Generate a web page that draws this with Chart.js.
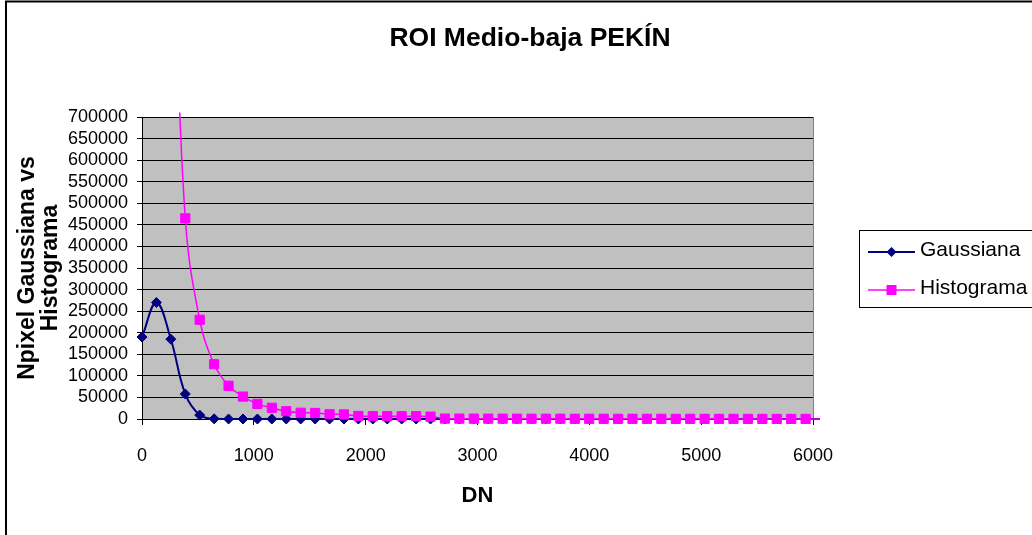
<!DOCTYPE html>
<html>
<head>
<meta charset="utf-8">
<title>ROI Medio-baja PEKÍN</title>
<script src="https://cdn.jsdelivr.net/npm/chart.js@4/dist/chart.umd.min.js"></script>
<style>
  html, body { margin: 0; padding: 0; background: #fff; }
  canvas { display: block; }
</style>
</head>
<body>
<canvas id="myChart01" width="1032" height="535"></canvas>
<script>
// DN bins (last one lies just past the axis end, like in the original)
var dnValues = [0, 129, 258, 387, 516, 645, 774, 903, 1032, 1161, 1290, 1419,
    1548, 1677, 1806, 1935, 2064, 2193, 2322, 2451, 2580, 2709, 2838, 2967,
    3096, 3225, 3354, 3483, 3612, 3741, 3870, 3999, 4128, 4257, 4386, 4515,
    4644, 4773, 4902, 5031, 5160, 5289, 5418, 5547, 5676, 5805, 5934, 6063];

var gaussiana = [190000, 270000, 185000, 58000, 9000, 300, 0, 0, 0, 0, 0, 0,
    0, 0, 0, 0, 0, 0, 0, 0, 0, 0, 0, 0,
    0, 0, 0, 0, 0, 0, 0, 0, 0, 0, 0, 0,
    0, 0, 0, 0, 0, 0, 0, 0, 0, 0, 0, 0];

var histograma = [1100000, 1500000, 1200000, 465000, 230000, 127000, 77000, 52000, 35000, 26000, 18000, 14500,
    14000, 11000, 10500, 7000, 6500, 6500, 6500, 6500, 5500, 1000, 900, 800,
    800, 700, 700, 600, 600, 600, 500, 500, 500, 400, 400, 400,
    400, 300, 300, 300, 300, 300, 200, 200, 200, 200, 200, 200];

var xTicks = [0, 1000, 2000, 3000, 4000, 5000, 6000];
var yTicks = [0, 50000, 100000, 150000, 200000, 250000, 300000, 350000, 400000,
    450000, 500000, 550000, 600000, 650000, 700000];

var FONT = "'Liberation Sans', Arial, Helvetica, sans-serif";

function toPoints(xs, ys) {
    return xs.map(function (x, i) { return { x: x, y: ys[i] }; });
}

function hideBeyondAxis(r) {
    return function (ctx) {
        return ctx.raw && ctx.raw.x > 6000 ? 0 : r;
    };
}

// grey plot area, chart frame, plot border and legend
var excelLook = {
    id: 'excelLook',
    beforeDraw: function (chart) {
        var ctx = chart.ctx, a = chart.chartArea;
        ctx.save();
        ctx.fillStyle = '#ffffff';
        ctx.fillRect(0, 0, chart.width, chart.height);
        ctx.fillStyle = '#c0c0c0';
        ctx.fillRect(a.left, a.top, a.right - a.left, a.bottom - a.top);
        ctx.restore();
    },
    beforeDatasetsDraw: function (chart) {
        var ctx = chart.ctx, a = chart.chartArea;
        ctx.save();
        ctx.strokeStyle = '#808080';
        ctx.lineWidth = 1;
        ctx.beginPath();
        ctx.moveTo(Math.round(a.right) + 0.5, a.top);
        ctx.lineTo(Math.round(a.right) + 0.5, a.bottom);
        ctx.stroke();
        ctx.restore();
    },
    afterDraw: function (chart) {
        var ctx = chart.ctx;
        ctx.save();
        // outer chart frame
        ctx.strokeStyle = '#000';
        ctx.lineWidth = 2;
        ctx.strokeRect(6, 1.5, 1100, 700);

        // legend box
        ctx.lineWidth = 1;
        ctx.strokeStyle = '#000';
        ctx.strokeRect(859.5, 230.5, 200, 77);

        var rows = [252, 290];
        chart.data.datasets.forEach(function (ds, i) {
            var y = rows[i];
            ctx.strokeStyle = ds.borderColor;
            ctx.fillStyle = ds.borderColor;
            ctx.lineWidth = ds.borderWidth;
            ctx.beginPath();
            ctx.moveTo(868, y);
            ctx.lineTo(915, y);
            ctx.stroke();
            var cx = 891.5;
            ctx.beginPath();
            if (ds.pointStyle === 'rectRot') {
                ctx.moveTo(cx, y - 5);
                ctx.lineTo(cx + 5, y);
                ctx.lineTo(cx, y + 5);
                ctx.lineTo(cx - 5, y);
                ctx.closePath();
            } else {
                ctx.rect(cx - 5, y - 5, 10, 10);
            }
            ctx.fill();

            ctx.fillStyle = '#000';
            ctx.font = '21px ' + FONT;
            ctx.textAlign = 'left';
            ctx.textBaseline = 'middle';
            ctx.fillText(ds.label, 920, y - 2);
        });
        ctx.restore();
    }
};

var chartPlaceholder01 = document.getElementById('myChart01');

var newChart01 = new Chart(chartPlaceholder01, {
    type: 'scatter',
    data: {
        datasets: [
            {
                label: 'Gaussiana',
                data: toPoints(dnValues, gaussiana),
                showLine: true,
                tension: 0.4,
                borderColor: '#000080',
                backgroundColor: '#000080',
                borderWidth: 2,
                pointStyle: 'rectRot',
                pointRadius: hideBeyondAxis(5),
                pointBorderWidth: 1,
                pointBorderColor: '#000080',
                pointBackgroundColor: '#000080',
                clip: { left: 8, top: 4.5, right: 8, bottom: 8 },
                order: 2
            },
            {
                label: 'Histograma',
                data: toPoints(dnValues, histograma),
                showLine: true,
                tension: 0.4,
                borderColor: '#ff00ff',
                backgroundColor: '#ff00ff',
                borderWidth: 1.5,
                pointStyle: 'rect',
                pointRadius: hideBeyondAxis(6.5),
                pointBorderWidth: 1,
                pointBorderColor: '#ff00ff',
                pointBackgroundColor: '#ff00ff',
                clip: { left: 8, top: 4.5, right: 8, bottom: 8 },
                order: 1
            }
        ]
    },
    options: {
        responsive: false,
        animation: false,
        events: [],
        layout: { padding: { left: 28, right: 0, top: 0, bottom: 0 } },
        plugins: {
            legend: { display: false },
            tooltip: { enabled: false },
            title: {
                display: true,
                text: 'ROI Medio-baja PEKÍN',
                color: '#000',
                font: { family: FONT, size: 26.5, weight: 'bold', lineHeight: 1.2 },
                padding: { top: 22.8, bottom: 62.4 }
            }
        },
        scales: {
            x: {
                type: 'linear',
                min: 0,
                max: 6000,
                afterBuildTicks: function (scale) {
                    scale.ticks = xTicks.map(function (v) { return { value: v }; });
                },
                afterFit: function (scale) { scale.height = 116; },
                grid: {
                    drawOnChartArea: false,
                    drawTicks: true,
                    tickLength: 6,
                    color: '#000'
                },
                border: { color: '#000', width: 1 },
                ticks: {
                    padding: 20,
                    autoSkip: false,
                    color: '#000',
                    font: { family: FONT, size: 18 },
                    maxRotation: 0,
                    callback: function (v) { return String(v); }
                },
                title: {
                    display: true,
                    text: 'DN',
                    color: '#000',
                    font: { family: FONT, size: 22, weight: 'bold', lineHeight: 1.2 },
                    padding: { top: 10, bottom: 25.8 }
                }
            },
            y: {
                type: 'linear',
                min: 0,
                max: 700000,
                afterBuildTicks: function (scale) {
                    scale.ticks = yTicks.map(function (v) { return { value: v }; });
                },
                afterFit: function (scale) { scale.width = 114; },
                grid: {
                    color: '#000',
                    lineWidth: 1,
                    drawTicks: true,
                    tickLength: 5
                },
                border: { color: '#000', width: 1 },
                ticks: {
                    padding: 9,
                    autoSkip: false,
                    color: '#000',
                    font: { family: FONT, size: 18 },
                    callback: function (v) { return String(v); }
                },
                title: {
                    display: true,
                    text: ['Npixel Gaussiana vs', 'Histograma'],
                    color: '#000',
                    font: { family: FONT, size: 23, weight: 'bold', lineHeight: 1.0 },
                    padding: { top: -12, bottom: 0 }
                }
            },
            yRight: {
                type: 'linear',
                position: 'right',
                display: true,
                afterFit: function (scale) { scale.width = 219; },
                grid: { display: false },
                border: { display: false },
                ticks: { display: false }
            }
        }
    },
    plugins: [excelLook]
});
</script>
</body>
</html>
